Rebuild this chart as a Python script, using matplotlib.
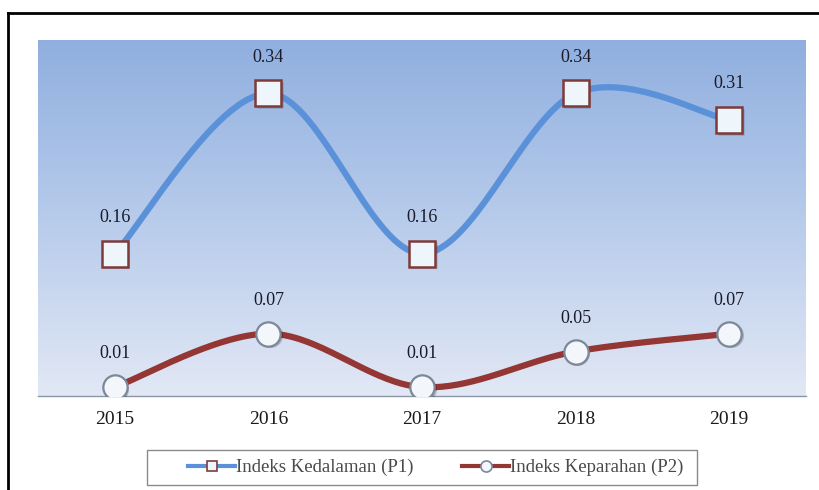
import numpy as np
import matplotlib
matplotlib.use("Agg")
import matplotlib.pyplot as plt
import matplotlib.transforms as mtransforms
from matplotlib.lines import Line2D
from matplotlib.patches import Rectangle
from matplotlib.colors import LinearSegmentedColormap

years = ["2015", "2016", "2017", "2018", "2019"]
p1 = [0.16, 0.34, 0.16, 0.34, 0.31]
p2 = [0.01, 0.07, 0.01, 0.05, 0.07]
p1_label = "Indeks Kedalaman (P1)"
p2_label = "Indeks Keparahan (P2)"

SERIF = ["Liberation Serif", "DejaVu Serif"]
plt.rcParams['font.family'] = SERIF


def smooth(xs, ys, n=40):
    xs = np.asarray(xs, float)
    ys = np.asarray(ys, float)
    P = np.column_stack([xs, ys])
    out = []
    for i in range(len(P) - 1):
        p0 = P[i - 1] if i > 0 else P[i]
        a = P[i]
        b = P[i + 1]
        p3 = P[i + 2] if i + 2 < len(P) else P[i + 1]
        c1 = a + (b - p0) / 6.0
        c2 = b - (p3 - a) / 6.0
        t = np.linspace(0, 1, n)[:, None]
        seg = ((1 - t) ** 3) * a + 3 * ((1 - t) ** 2) * t * c1 + 3 * (1 - t) * t ** 2 * c2 + t ** 3 * b
        out.append(seg if i == 0 else seg[1:])
    s = np.vstack(out)
    return s[:, 0], s[:, 1]


W, H = 819, 490
fig = plt.figure(figsize=(W / 100, H / 100), dpi=100)
fig.patch.set_facecolor("white")

ax = fig.add_axes([38 / W, 94 / H, (806 - 38) / W, (396 - 40) / H])
x = np.arange(len(years))
xlo, xhi = -0.5, len(years) - 0.5

cmap = LinearSegmentedColormap.from_list("bg", ["#e2e8f5", "#b7cbeb", "#90afdf"])
grad = np.linspace(0, 1, 256)[:, None]
ax.imshow(grad, extent=[xlo, xhi, 0, 0.4], aspect="auto",
          cmap=cmap, zorder=0, origin="lower")
ax.set_xlim(xlo, xhi)
ax.set_ylim(0, 0.4)

blue = "#5a91d8"
red = "#943634"

sx, sy = smooth(x, p1)
ax.plot(sx, sy, color=blue, lw=4.5, solid_capstyle="round", zorder=2)
sx2, sy2 = smooth(x, p2)
ax.plot(sx2, sy2, color=red, lw=4.5, solid_capstyle="round", zorder=2)

shadow = ax.transData + mtransforms.ScaledTranslation(1.5 / 100, -1.5 / 100, fig.dpi_scale_trans)
ax.plot(x, p1, ls="none", marker="s", ms=19, mfc="#00000035", mec="none",
        transform=shadow, zorder=3)
ax.plot(x, p2, ls="none", marker="o", ms=18, mfc="#00000035", mec="none",
        transform=shadow, zorder=3)

ax.plot(x, p1, ls="none", marker="s", ms=18.5, mfc="#eef5fb", mec="#7e3b3a", mew=1.8, zorder=4)
ax.plot(x, p2, ls="none", marker="o", ms=17.5, mfc="#f3f7fb", mec="#7c8898", mew=1.6, zorder=4)

for xi, v in zip(x, p1):
    ax.annotate(f"{v:.2f}", (xi, v), xytext=(0, 26), textcoords="offset points",
                ha="center", va="center", fontsize=13, color="#1a1a2a", zorder=5)
for xi, v in zip(x, p2):
    ax.annotate(f"{v:.2f}", (xi, v), xytext=(0, 24), textcoords="offset points",
                ha="center", va="center", fontsize=13, color="#1a1a2a", zorder=5)

ax.set_xticks(x)
ax.set_xticklabels(years, fontsize=14, color="#1a1a1a")
ax.tick_params(axis="x", length=0, pad=11)
ax.set_yticks([])
for s in ["top", "right", "left"]:
    ax.spines[s].set_visible(False)
ax.spines["bottom"].set_color("#8a96a6")
ax.spines["bottom"].set_linewidth(1.0)

handles = [
    Line2D([], [], color=blue, lw=3, marker="s", ms=7, mfc="#eef5fb", mec="#7e3b3a", mew=1.2),
    Line2D([], [], color=red, lw=3, marker="o", ms=8, mfc="#f3f7fb", mec="#7c8898", mew=1.2),
]
leg = fig.legend(handles, [p1_label, p2_label], loc="center",
                 bbox_to_anchor=(436 / W, 22.5 / H), ncol=2, frameon=False,
                 fontsize=13.5, handlelength=2.5, handletextpad=0.05,
                 columnspacing=2.6, borderpad=0.35, borderaxespad=0)
for t in leg.get_texts():
    t.set_color("#4a4a4a")

fig.add_artist(Rectangle((147 / W, (H - 485) / H), (697 - 147) / W, 35 / H,
                         transform=fig.transFigure, fill=False,
                         edgecolor="#8a8a8a", lw=1.0))

fig.add_artist(Line2D([7.5 / W, 7.5 / W], [0, 1 - 13 / H], color="black", lw=2,
                      transform=fig.transFigure))
fig.add_artist(Line2D([7.5 / W, 1], [1 - 13 / H, 1 - 13 / H], color="black", lw=2,
                      transform=fig.transFigure))

fig.savefig("out.png", dpi=100)
